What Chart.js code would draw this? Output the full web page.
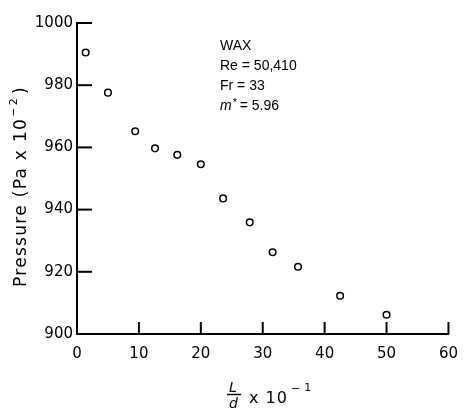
<!DOCTYPE html>
<html>
<head>
<meta charset="utf-8">
<script src="https://cdn.jsdelivr.net/npm/chart.js@4"></script>
<style>
  html, body { margin: 0; padding: 0; background: #fff; }
  #wrap { width: 469px; height: 410px; }
</style>
</head>
<body>
<div id="wrap"><canvas id="pressureChart" width="469" height="410"></canvas></div>
<script>
// Data (L/d x 10^-1 vs pressure in Pa x 10^-2)
const lengthRatio = [1.4, 5.0, 9.4, 12.6, 16.2, 20.0, 23.6, 27.9, 31.6, 35.7, 42.5, 50.0];
const pressure = [990.5, 977.6, 965.2, 959.7, 957.6, 954.6, 943.6, 935.9, 926.3, 921.6, 912.3, 906.2];
const xTicks = [0, 10, 20, 30, 40, 50, 60];
const yTicks = [900, 920, 940, 960, 980, 1000];
const noteLines = ['WAX', 'Re = 50,410', 'Fr = 33'];

Chart.defaults.font.family = 'DejaVu Sans';
Chart.defaults.color = '#000';

// Function to draw a straight line
function line(ctx, x1, y1, x2, y2) {
    ctx.beginPath();
    ctx.moveTo(x1, y1);
    ctx.lineTo(x2, y2);
    ctx.stroke();
}

// Inward ticks, axis titles and the note block
const decorations = {
    id: 'decorations',
    afterDraw(chart) {
        const ctx = chart.ctx;
        const area = chart.chartArea;
        const xs = chart.scales.x;
        const ys = chart.scales.y;

        ctx.save();
        ctx.strokeStyle = '#000';
        ctx.fillStyle = '#000';
        ctx.lineWidth = 2;

        yTicks.forEach(v => {
            const py = ys.getPixelForValue(v);
            line(ctx, area.left, py, area.left + 15, py);
        });
        xTicks.forEach(v => {
            const px = xs.getPixelForValue(v);
            line(ctx, px, area.bottom, px, area.bottom - 12);
        });

        // y title, rotated
        ctx.save();
        ctx.translate(26, 287);
        ctx.rotate(-Math.PI / 2);
        ctx.textAlign = 'left';
        ctx.textBaseline = 'alphabetic';
        ctx.font = '17px "DejaVu Sans"';
        ctx.letterSpacing = '1.3px';
        const main = 'Pressure (Pa x 10';
        ctx.fillText(main, 0, 0);
        let w = ctx.measureText(main).width;
        ctx.font = '11px "DejaVu Sans"';
        ctx.fillText('\u2212', w + 1, -9);
        let sw = ctx.measureText('\u2212').width;
        ctx.fillText('2', w + 1 + sw + 1, -9);
        sw += ctx.measureText('2').width + 3;
        ctx.font = '17px "DejaVu Sans"';
        ctx.fillText(')', w + sw + 2, 0);
        ctx.restore();

        // x title: L/d x 10^-1
        ctx.textAlign = 'left';
        ctx.textBaseline = 'alphabetic';
        ctx.letterSpacing = '0px';
        ctx.font = 'italic 14px "DejaVu Sans"';
        ctx.fillText('L', 229, 392);
        ctx.lineWidth = 1.5;
        line(ctx, 227, 394.5, 241, 394.5);
        ctx.fillText('d', 229, 408);
        ctx.font = '16px "DejaVu Sans"';
        ctx.letterSpacing = '1px';
        ctx.fillText('x 10', 249, 403);
        const xw = ctx.measureText('x 10').width;
        ctx.font = '11px "DejaVu Sans"';
        ctx.fillText('\u2212', 249 + xw + 3, 392);
        ctx.fillText('1', 249 + xw + 3 + ctx.measureText('\u2212').width + 3, 391);

        // note block
        ctx.letterSpacing = '0px';
        ctx.font = '14px "Liberation Sans"';
        noteLines.forEach((t, i) => {
            ctx.fillText(t, 220, 50 + i * 20);
        });
        ctx.font = 'italic 14px "Liberation Sans"';
        ctx.fillText('m', 220, 110);
        const mw = ctx.measureText('m').width;
        ctx.font = '11px "Liberation Sans"';
        ctx.fillText('*', 220 + mw + 1, 106);
        ctx.font = '14px "Liberation Sans"';
        ctx.fillText('= 5.96', 220 + mw + 8, 110);

        ctx.restore();
    }
};

const ctxEl = document.getElementById('pressureChart');
const pressureChart = new Chart(ctxEl, {
    type: 'scatter',
    data: {
        datasets: [{
            data: lengthRatio.map((v, i) => ({ x: v, y: pressure[i] })),
            pointStyle: 'circle',
            pointRadius: 3.3,
            borderWidth: 1.5,
            borderColor: '#000',
            backgroundColor: '#fff'
        }]
    },
    options: {
        responsive: false,
        animation: false,
        layout: {
            padding: { top: 23, right: 12, left: 0, bottom: 0 }
        },
        plugins: {
            legend: { display: false },
            tooltip: { enabled: false }
        },
        scales: {
            x: {
                type: 'linear',
                min: 0,
                max: 60,
                afterBuildTicks: scale => { scale.ticks = xTicks.map(v => ({ value: v })); },
                afterFit: scale => { scale.height = 76; },
                grid: { drawOnChartArea: false, drawTicks: false },
                border: { color: '#000', width: 2 },
                ticks: {
                    padding: 11,
                    maxRotation: 0,
                    font: { size: 15 },
                    color: '#000',
                    callback: value => String(value)
                }
            },
            y: {
                type: 'linear',
                min: 900,
                max: 1000,
                afterBuildTicks: scale => { scale.ticks = yTicks.map(v => ({ value: v })); },
                afterFit: scale => { scale.width = 77; },
                grid: { drawOnChartArea: false, drawTicks: false },
                border: { color: '#000', width: 2 },
                ticks: {
                    padding: 4,
                    font: { size: 15 },
                    color: '#000',
                    callback: value => String(value)
                }
            }
        }
    },
    plugins: [decorations]
});
</script>
</body>
</html>
